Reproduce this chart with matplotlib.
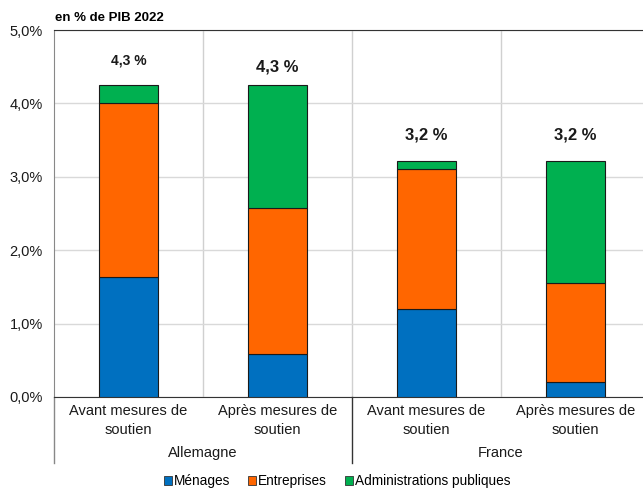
import matplotlib
matplotlib.use('Agg')
import matplotlib.pyplot as plt
import numpy as np
from matplotlib.patches import Patch

plt.rcParams['font.family'] = ['Liberation Sans', 'DejaVu Sans']

# données (en % du PIB 2022)
categories = ['Avant mesures de\nsoutien', 'Après mesures de\nsoutien',
              'Avant mesures de\nsoutien', 'Après mesures de\nsoutien']
pays = ['Allemagne', 'France']
menages = [1.64, 0.58, 1.20, 0.20]
entreprises = [2.37, 2.00, 1.90, 1.35]
admin = [0.24, 1.67, 0.115, 1.665]
totaux = ['4,3 %', '4,3 %', '3,2 %', '3,2 %']
series = ['Ménages', 'Entreprises', 'Administrations publiques']
couleurs = ['#0070C0', '#FF6600', '#00B050']

fig = plt.figure(figsize=(6.43, 4.88), dpi=100)
ax = fig.add_axes([54 / 643, 91 / 488, 596 / 643, 367 / 488])

x = np.arange(len(categories))
bas = np.zeros(len(categories))
for vals, c in zip([menages, entreprises, admin], couleurs):
    ax.bar(x, vals, width=0.4, bottom=bas, color=c, edgecolor='#1a1a1a',
           linewidth=0.8, zorder=3)
    bas += np.array(vals)

# étiquettes des totaux
tailles = [10, 12, 12, 12]
decal = [0.33, 0.25, 0.36, 0.36]
for i in range(len(categories)):
    ax.text(x[i], bas[i] + decal[i], totaux[i], ha='center', va='center',
            fontsize=tailles[i], fontweight='bold', color='#1a1a1a')

ax.set_xlim(-0.5, 3.5)
ax.set_ylim(0, 5)
ax.set_yticks(np.arange(0, 5.01, 1))
ax.set_yticklabels([f'{v:.1f}%'.replace('.', ',') for v in np.arange(0, 5.01, 1)],
                   fontsize=10.5, color='#1a1a1a')
ax.set_xticks(x)
ax.set_xticklabels(categories, fontsize=10.5, color='#1a1a1a', linespacing=1.5)
ax.tick_params(axis='x', length=0, pad=5)
ax.tick_params(axis='y', length=0, pad=8)

# grille
ax.grid(axis='y', color='#d9d9d9', linewidth=1, zorder=0)
for xv in [0.5, 1.5, 2.5]:
    ax.axvline(xv, color='#d0d0d0', linewidth=1, zorder=0)

ax.spines['right'].set_visible(False)
ax.spines['top'].set_color('#333333')
ax.spines['bottom'].set_color('#333333')
ax.spines['left'].set_color('#888888')

# séparateurs des groupes sous l'axe
tr = ax.get_xaxis_transform()
ax.plot([-0.5, -0.5], [0, -0.18], transform=tr, color='#888888', lw=1, clip_on=False)
ax.plot([1.5, 1.5], [0, -0.18], transform=tr, color='#333333', lw=1, clip_on=False)

for j, p in enumerate(pays):
    ax.text(0.5 + 2 * j, -0.153, p, transform=tr, ha='center', va='center',
            fontsize=10.5, color='#1a1a1a')

fig.text(55 / 643, 1 - 18 / 488, 'en % de PIB 2022', fontsize=9.5,
         fontweight='bold', ha='left', va='center')

handles = [Patch(facecolor=c, edgecolor='#333333', linewidth=0.6) for c in couleurs]
fig.legend(handles, series, loc='center', bbox_to_anchor=(337 / 643, 1 - 481 / 488),
           ncol=3, frameon=False, fontsize=9.8, handlelength=0.6, handleheight=0.6,
           handletextpad=0.15, columnspacing=1.3)

fig.savefig('out.png', dpi=100)
